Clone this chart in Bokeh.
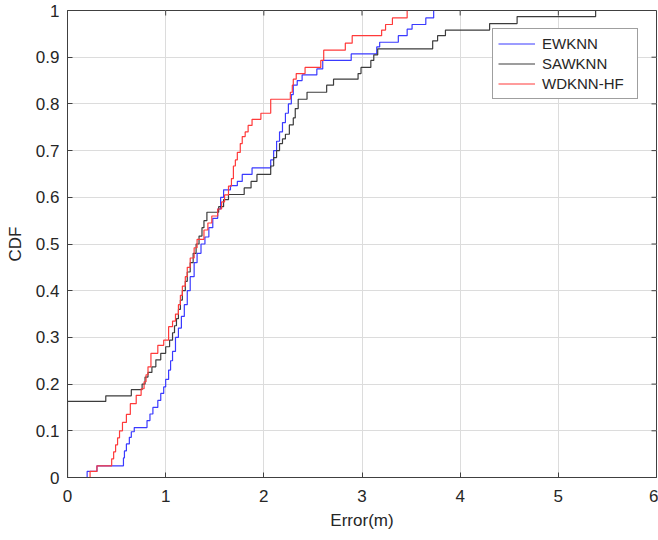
from bokeh.plotting import figure
from bokeh.models import Range1d, FixedTicker, Legend, LegendItem
from bokeh.embed import file_html
from bokeh.resources import INLINE

# ---- data ----
ewknn_err = [0.20, 0.20, 0.30, 0.57, 0.58, 0.60, 0.63, 0.65, 0.68, 0.81, 0.84, 0.87, 0.92, 0.95, 0.98,
             1.00, 1.03, 1.05, 1.07, 1.10, 1.13, 1.16, 1.19, 1.22, 1.25, 1.29, 1.32, 1.36, 1.40, 1.44,
             1.48, 1.53, 1.56, 1.59, 1.66, 1.73, 1.78, 1.88, 2.07, 2.10, 2.13, 2.16, 2.19, 2.22, 2.25,
             2.28, 2.30, 2.34, 2.39, 2.54, 2.60, 2.89, 3.15, 3.18, 3.37, 3.46, 3.51, 3.65, 3.73]
ewknn_cdf = [0, 0.013, 0.025, 0.042, 0.057, 0.072, 0.086, 0.098, 0.107, 0.122, 0.136, 0.150, 0.165, 0.180, 0.194,
             0.21, 0.23, 0.25, 0.27, 0.30, 0.32, 0.345, 0.37, 0.40, 0.43, 0.46, 0.48, 0.50, 0.515, 0.535,
             0.555, 0.575, 0.60, 0.616, 0.625, 0.634, 0.649, 0.663, 0.68, 0.70, 0.72, 0.74, 0.76, 0.78, 0.80,
             0.82, 0.84, 0.85, 0.862, 0.875, 0.893, 0.907, 0.922, 0.932, 0.946, 0.96, 0.97, 0.984, 1.0]

sawknn_err = [0.00, 0.00, 0.39, 0.65, 0.76, 0.79, 0.82, 0.86, 0.90, 0.95, 1.00, 1.04, 1.07, 1.09, 1.11,
              1.13, 1.15, 1.17, 1.20, 1.22, 1.25, 1.28, 1.31, 1.34, 1.37, 1.39, 1.42, 1.54, 1.59, 1.64,
              1.80, 1.87, 1.93, 2.07, 2.10, 2.13, 2.16, 2.19, 2.22, 2.26, 2.30, 2.32, 2.35, 2.44, 2.64,
              2.71, 2.96, 2.99, 3.09, 3.12, 3.16, 3.72, 3.77, 3.85, 4.30, 4.58, 5.38]
sawknn_cdf = [0, 0.163, 0.175, 0.188, 0.20, 0.215, 0.225, 0.237, 0.252, 0.266, 0.28, 0.294, 0.31, 0.325, 0.34,
              0.36, 0.38, 0.40, 0.42, 0.44, 0.46, 0.48, 0.50, 0.517, 0.535, 0.55, 0.568, 0.58, 0.595, 0.606,
              0.62, 0.634, 0.649, 0.667, 0.685, 0.70, 0.715, 0.725, 0.735, 0.755, 0.77, 0.79, 0.81, 0.825, 0.84,
              0.853, 0.865, 0.878, 0.893, 0.905, 0.918, 0.935, 0.946, 0.958, 0.972, 0.987, 1.0]

wdknn_err = [0.23, 0.23, 0.30, 0.45, 0.47, 0.49, 0.51, 0.53, 0.56, 0.60, 0.64, 0.70, 0.75, 0.78, 0.80,
             0.82, 0.85, 0.92, 0.98, 1.03, 1.07, 1.10, 1.13, 1.15, 1.17, 1.20, 1.22, 1.25, 1.29, 1.32,
             1.39, 1.43, 1.47, 1.53, 1.57, 1.60, 1.64, 1.67, 1.69, 1.71, 1.73, 1.76, 1.78, 1.81, 1.84,
             1.88, 1.97, 2.07, 2.27, 2.29, 2.30, 2.33, 2.42, 2.58, 2.61, 2.83, 2.90, 3.20, 3.24, 3.31, 3.46]
wdknn_cdf = [0, 0.013, 0.025, 0.04, 0.055, 0.07, 0.085, 0.10, 0.118, 0.135, 0.158, 0.176, 0.19, 0.205, 0.22,
             0.237, 0.266, 0.283, 0.294, 0.323, 0.335, 0.35, 0.37, 0.39, 0.41, 0.43, 0.45, 0.47, 0.492, 0.51,
             0.53, 0.545, 0.56, 0.575, 0.59, 0.605, 0.624, 0.64, 0.667, 0.68, 0.696, 0.715, 0.73, 0.74, 0.754,
             0.767, 0.78, 0.81, 0.825, 0.84, 0.853, 0.865, 0.878, 0.893, 0.915, 0.93, 0.946, 0.958, 0.97, 0.984, 1.0]

series_names = ["EWKNN", "SAWKNN", "WDKNN-HF"]
series_colors = ["#3a3aff", "#3c3c3c", "#ff3a3a"]

x_ticks = [0, 1, 2, 3, 4, 5, 6]
x_tick_labels = ["0", "1", "2", "3", "4", "5", "6"]
y_ticks = [0, 0.1, 0.2, 0.3, 0.4, 0.5, 0.6, 0.7, 0.8, 0.9, 1.0]
y_tick_labels = ["0", "0.1", "0.2", "0.3", "0.4", "0.5", "0.6", "0.7", "0.8", "0.9", "1"]

FONT = "Liberation Sans"
TXT = "#262626"
AX = "#404040"

W, H = 658, 540
BL, BR, BT, BB = 67, 2, 10, 63
TICK_PX = 5

x_lo, x_hi = x_ticks[0], x_ticks[-1]
y_lo, y_hi = y_ticks[0], y_ticks[-1]

p = figure(width=W, height=H, x_range=Range1d(x_lo, x_hi), y_range=Range1d(y_lo, y_hi),
           output_backend="svg", toolbar_location=None,
           min_border_left=BL, min_border_right=BR, min_border_top=BT, min_border_bottom=BB)
p.background_fill_color = "white"
p.border_fill_color = "white"
p.outline_line_color = AX
p.outline_line_width = 1

for ax, ticks, labels in ((p.xaxis[0], x_ticks, x_tick_labels), (p.yaxis[0], y_ticks, y_tick_labels)):
    ax.ticker = FixedTicker(ticks=ticks)
    ax.major_label_overrides = {t: l for t, l in zip(ticks, labels)}
    ax.major_tick_in = TICK_PX
    ax.major_tick_out = 0
    ax.minor_tick_in = 0
    ax.minor_tick_out = 0
    ax.major_tick_line_color = AX
    ax.axis_line_color = AX
    ax.major_label_text_font = FONT
    ax.major_label_text_font_size = "17px"
    ax.major_label_text_color = TXT
    ax.axis_label_text_font = FONT
    ax.axis_label_text_font_size = "17px"
    ax.axis_label_text_font_style = "normal"
    ax.axis_label_text_color = TXT

p.xaxis.axis_label = "Error(m)"
p.yaxis.axis_label = "CDF"
p.xaxis.major_label_standoff = 12
p.yaxis.major_label_standoff = 8
p.xaxis.axis_label_standoff = 6
p.yaxis.axis_label_standoff = 8

p.xgrid.ticker = FixedTicker(ticks=x_ticks)
p.ygrid.ticker = FixedTicker(ticks=y_ticks)
p.grid.grid_line_color = "#dcdcdc"
p.grid.grid_line_width = 1

renderers = []
for xs, ys, c in ((ewknn_err, ewknn_cdf, series_colors[0]),
                  (sawknn_err, sawknn_cdf, series_colors[1]),
                  (wdknn_err, wdknn_cdf, series_colors[2])):
    r = p.step(xs, ys, mode="after", line_color=c, line_width=1.2)
    renderers.append(r)

# inward box ticks along the top and right edges (MATLAB "box on")
dy = TICK_PX / (H - BT - BB) * (y_hi - y_lo)
dx = TICK_PX / (W - BL - BR) * (x_hi - x_lo)
p.segment(x0=x_ticks, y0=[y_hi] * len(x_ticks), x1=x_ticks, y1=[y_hi - dy] * len(x_ticks),
          line_color=AX, line_width=1)
p.segment(x0=[x_hi] * len(y_ticks), y0=y_ticks, x1=[x_hi - dx] * len(y_ticks), y1=y_ticks,
          line_color=AX, line_width=1)

legend = Legend(items=[LegendItem(label=n, renderers=[r]) for n, r in zip(series_names, renderers)],
                location="top_right")
legend.margin = 18
legend.padding = 5
legend.spacing = 1
legend.glyph_width = 37
legend.glyph_height = 19
legend.label_height = 19
legend.label_width = 90
legend.label_standoff = 7
legend.label_text_font = FONT
legend.label_text_font_size = "15px"
legend.label_text_color = TXT
legend.border_line_color = AX
legend.border_line_width = 1
legend.background_fill_color = "white"
legend.background_fill_alpha = 1
p.add_layout(legend, "center")

open("out.html", "w").write(file_html(p, INLINE))
